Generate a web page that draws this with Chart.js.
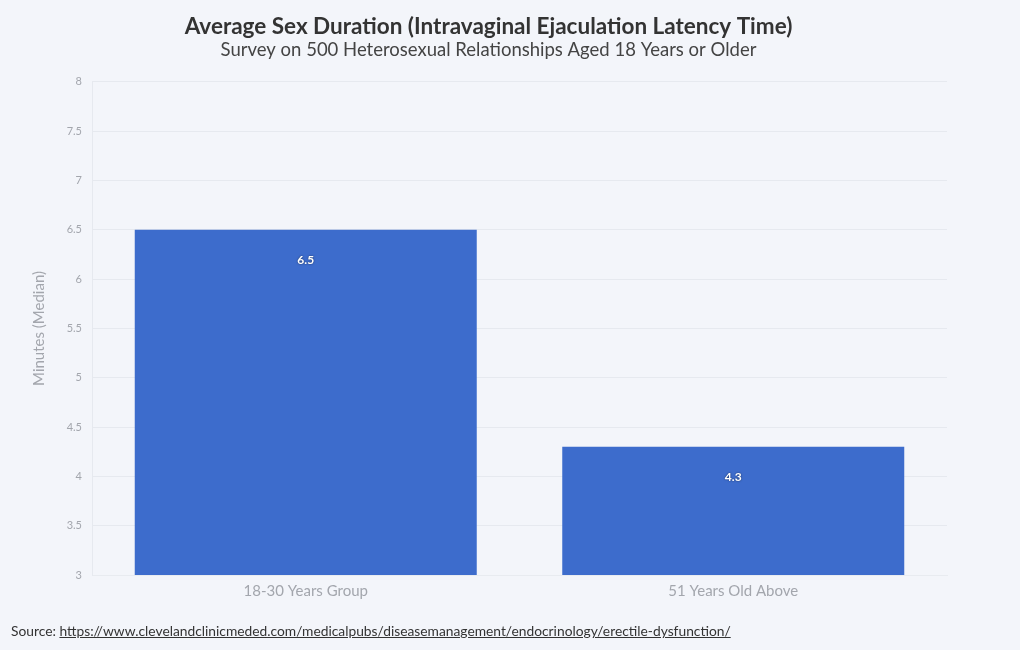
<!DOCTYPE html>
<html lang="en">
<head>
    <meta charset="UTF-8">
    <title>Average Sex Duration</title>
    <script src="https://cdn.jsdelivr.net/npm/chart.js"></script>
    <style>
        body { margin: 0; background: #f3f5fa; font-family: Lato, sans-serif; }
        #wrap { position: relative; width: 1020px; height: 650px; }
        #chart { display: block; }
        #source { position: absolute; left: 11px; top: 622px; font-size: 13.8px; color: #333; }
        #source a { color: #333; }
    </style>
</head>
<body>
    <div id="wrap">
        <canvas id="chart" width="1020" height="650"></canvas>
        <div id="source">Source: <a href="https://www.clevelandclinicmeded.com/medicalpubs/diseasemanagement/endocrinology/erectile-dysfunction/">https://www.clevelandclinicmeded.com/medicalpubs/diseasemanagement/endocrinology/erectile-dysfunction/</a></div>
    </div>

    <script>
        const categories = ['18-30 Years Group', '51 Years Old Above'];
        const medianMinutes = [6.5, 4.3];
        const yMin = 3;
        const yMax = 8;
        const yStep = 0.5;

        // white value labels just inside the top of each bar
        const barLabels = {
            id: 'barLabels',
            afterDatasetsDraw(chart) {
                const ctx = chart.ctx;
                const meta = chart.getDatasetMeta(0);
                ctx.save();
                ctx.font = 'bold 12px Lato, sans-serif';
                ctx.fillStyle = '#fff';
                ctx.textAlign = 'center';
                ctx.textBaseline = 'middle';
                ctx.shadowColor = 'rgba(0,0,0,0.6)';
                ctx.shadowBlur = 2;
                meta.data.forEach((bar, i) => {
                    ctx.fillText(medianMinutes[i], bar.x, bar.y + 30);
                });
                ctx.restore();
            }
        };

        new Chart(document.getElementById('chart'), {
            type: 'bar',
            data: {
                labels: categories,
                datasets: [{
                    data: medianMinutes,
                    backgroundColor: '#3d6ccc',
                    barPercentage: 0.8,
                    categoryPercentage: 1.0
                }]
            },
            options: {
                responsive: false,
                animation: false,
                layout: { padding: { left: 30, right: 73, top: 0, bottom: 43 } },
                plugins: {
                    legend: { display: false },
                    tooltip: { enabled: false },
                    title: {
                        display: true,
                        text: 'Average Sex Duration (Intravaginal Ejaculation Latency Time)',
                        color: '#333',
                        font: { family: 'Lato', size: 22.5, weight: 'bold', lineHeight: 1.1 },
                        padding: { top: 14, bottom: 0 }
                    },
                    subtitle: {
                        display: true,
                        text: 'Survey on 500 Heterosexual Relationships Aged 18 Years or Older',
                        color: '#444',
                        font: { family: 'Lato', size: 18.5 },
                        padding: { bottom: 21 }
                    }
                },
                scales: {
                    x: {
                        grid: { display: false, drawTicks: false },
                        border: { color: '#e8ebf0' },
                        ticks: { color: '#a3a6ad', font: { family: 'Lato', size: 15 }, padding: 7 }
                    },
                    y: {
                        min: yMin,
                        max: yMax,
                        afterFit(scale) { scale.width = 62; },
                        ticks: {
                            stepSize: yStep,
                            color: '#a3a6ad',
                            font: { family: 'Lato', size: 11 },
                            padding: 10,
                            callback: v => String(v)
                        },
                        grid: { color: '#e6e9ef', drawTicks: false },
                        border: { color: '#e6e9ef' },
                        title: {
                            display: true,
                            text: 'Minutes (Median)',
                            color: '#a3a6ad',
                            font: { family: 'Lato', size: 15 },
                            padding: 0
                        }
                    }
                }
            },
            plugins: [barLabels]
        });
    </script>
</body>
</html>
